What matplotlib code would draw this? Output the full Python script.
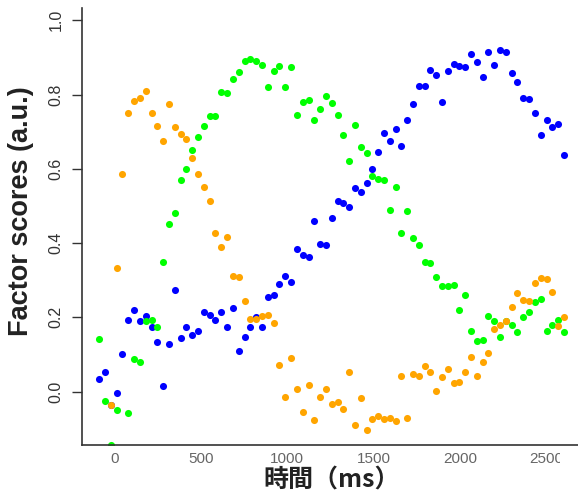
import matplotlib
matplotlib.use("Agg")
import matplotlib.pyplot as plt
from matplotlib.patches import Rectangle
import numpy as np

plt.rcParams['font.family'] = ['Liberation Sans', 'Noto Sans CJK JP', 'DejaVu Sans']

# sampling times (ms)
times = [-87, -53, -20, 14, 47, 81, 115, 148, 182, 215, 249, 283, 316, 350, 383, 417,
         451, 484, 518, 551, 585, 619, 652, 686, 719, 753, 787, 820, 854, 887, 921,
         955, 988, 1022, 1055, 1089, 1123, 1156, 1190, 1223, 1257, 1291, 1324, 1358,
         1391, 1425, 1459, 1492, 1526, 1559, 1593, 1627, 1660, 1694, 1727, 1761, 1795,
         1828, 1862, 1895, 1929, 1963, 1996, 2030, 2063, 2097, 2131, 2164, 2198, 2231,
         2265, 2299, 2332, 2366, 2399, 2433, 2467, 2500, 2534, 2567, 2601]

blue = [0.034, 0.053, -0.035, -0.004, 0.101, 0.193, 0.221, 0.189, 0.204, 0.175,
        0.134, 0.0145, 0.128, 0.274, 0.145, 0.173, 0.153, 0.164, 0.215, 0.206,
        0.193, 0.215, 0.173, 0.226, 0.109, 0.148, 0.173, 0.202, 0.173, 0.254,
        0.261, 0.289, 0.312, 0.295, 0.384, 0.368, 0.362, 0.459, 0.398, 0.396,
        0.467, 0.514, 0.509, 0.498, 0.549, 0.537, 0.563, 0.599, 0.645, 0.696,
        0.676, 0.706, 0.661, 0.731, 0.775, 0.823, 0.823, 0.865, 0.852, 0.779,
        0.864, 0.881, 0.878, 0.873, 0.909, 0.887, 0.848, 0.914, 0.879, 0.920,
        0.914, 0.859, 0.834, 0.792, 0.787, 0.751, 0.692, 0.731, 0.712, 0.720,
        0.636]

green = [0.143, -0.024, -0.143, -0.049, -0.20, -0.058, 0.087, 0.081, 0.190, 0.193,
         0.175, 0.348, 0.451, 0.481, 0.571, 0.600, 0.651, 0.686, 0.714, 0.742,
         0.742, 0.807, 0.803, 0.842, 0.862, 0.889, 0.897, 0.889, 0.879, 0.821,
         0.864, 0.876, 0.821, 0.873, 0.745, 0.781, 0.784, 0.731, 0.762, 0.796,
         0.778, 0.745, 0.692, 0.621, 0.717, 0.660, 0.642, 0.581, 0.572, 0.570,
         0.489, 0.551, 0.426, 0.486, 0.415, 0.395, 0.350, 0.346, 0.309, 0.285,
         0.285, 0.287, 0.220, 0.259, 0.164, 0.137, 0.139, 0.204, 0.190, 0.148,
         0.190, 0.179, 0.162, 0.200, 0.215, 0.242, 0.250, 0.164, 0.179, 0.193,
         0.162]

orange = [-0.20, -0.20, -0.035, 0.334, 0.587, 0.751, 0.783, 0.790, 0.809, 0.751,
          0.715, 0.676, 0.775, 0.712, 0.693, 0.681, 0.628, 0.587, 0.551, 0.514,
          0.428, 0.390, 0.417, 0.311, 0.309, 0.243, 0.197, 0.197, 0.203, 0.206,
          0.184, 0.073, -0.013, 0.090, 0.006, -0.055, 0.018, -0.077, -0.013, 0.006,
          -0.033, -0.027, -0.047, 0.054, -0.089, -0.016, -0.103, -0.074, -0.065, -0.073,
          -0.070, -0.078, 0.042, -0.072, 0.048, 0.042, 0.070, 0.053, 0.003, 0.039,
          0.061, 0.023, 0.027, 0.053, 0.093, 0.042, 0.081, 0.103, 0.170, 0.180,
          0.191, 0.229, 0.265, 0.248, 0.245, 0.292, 0.306, 0.303, 0.268, 0.178,
          0.200]

xticks = [0, 500, 1000, 1500, 2000, 2500]
yticks = [0.0, 0.2, 0.4, 0.6, 0.8, 1.0]
ytick_labels = ["0.0", "0.2", "0.4", "0.6", "0.8", "1.0"]

W, H = 578, 497
fig = plt.figure(figsize=(W / 100, H / 100), dpi=100)
ax = fig.add_axes([81.7 / W, 52 / H, (W - 81.7) / W, 437 / H])

for vals, col in [(blue, '#0000FF'), (green, '#00FF00'), (orange, '#FFA500')]:
    ax.plot(times, vals, linestyle='none', marker='o', markersize=5.1,
            markeredgewidth=0, color=col, clip_on=True)

ax.set_xlim(-189, 2682)
ax.set_ylim(-0.1435, 1.033)

ax.spines['top'].set_visible(False)
ax.spines['right'].set_visible(False)
for s in ['left', 'bottom']:
    ax.spines[s].set_color('#333333')
    ax.spines[s].set_linewidth(1.2)

ax.set_xticks(xticks)
ax.set_xticklabels([str(v) for v in xticks])
ax.set_yticks(yticks)
ax.set_yticklabels(ytick_labels, rotation=90, va='center')
ax.tick_params(axis='x', length=0, pad=5, labelsize=11, labelcolor='#666666')
ax.tick_params(axis='y', length=7, width=1, color='#333333', pad=6,
               labelsize=11.5, labelcolor='#333333')

# the reference image is cut just after the last tick label
fig.add_artist(Rectangle((560 / W, 20 / H), 18 / W, 26 / H, transform=fig.transFigure,
                         facecolor='white', edgecolor='none', zorder=10))

fig.text(21 / W, 1 - 211 / H, "Factor scores (a.u.)", rotation=90,
         ha='center', va='center', fontsize=19.5, fontweight='bold', color='#222222')
fig.text(332 / W, 1 - 481 / H, "時間（ms）", ha='center', va='center',
         fontsize=18, fontweight='bold', color='#222222',
         family=['Noto Sans CJK JP', 'DejaVu Sans'])

fig.savefig("out.png", dpi=100)
